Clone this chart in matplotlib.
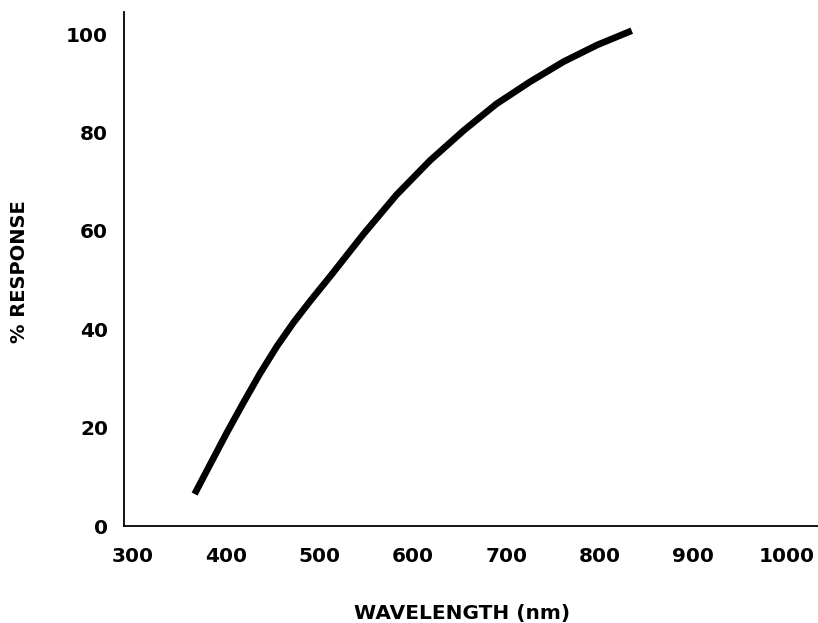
import matplotlib
matplotlib.use("Agg")
import matplotlib.pyplot as plt

wavelength_nm = [366, 382, 400, 418, 436, 454, 472, 490, 513, 547, 582, 618, 654, 689, 725, 761, 797, 834]
response_pct = [6.5, 12.3, 18.8, 25.0, 31.0, 36.5, 41.4, 45.8, 51.2, 59.4, 67.3, 74.3, 80.4, 85.8, 90.3, 94.4, 97.8, 100.7]
x_ticks = [300, 400, 500, 600, 700, 800, 900, 1000]
y_ticks = [0, 20, 40, 60, 80, 100]

plt.rcParams['font.family'] = ['DejaVu Sans']
fig = plt.figure(figsize=(8.18, 6.23), dpi=100)
W, H = 818, 623
ax = fig.add_axes([124 / W, (H - 526) / H, (W - 124) / W, (526 - 12) / H])

ax.plot(wavelength_nm, response_pct, color='black', lw=4.8,
        solid_capstyle='butt', solid_joinstyle='round')

ax.set_xlim(290.4, 1033.4)
ax.set_ylim(0, 104.5)
ax.set_xticks(x_ticks)
ax.set_yticks(y_ticks)
ax.set_xticklabels([str(t) for t in x_ticks], fontsize=14.5, fontweight='bold')
ax.set_yticklabels([str(t) for t in y_ticks], fontsize=14.5, fontweight='bold')
ax.tick_params(axis='both', length=0)
ax.tick_params(axis='y', pad=11.5)
ax.tick_params(axis='x', pad=15)

for s in ['top', 'right']:
    ax.spines[s].set_visible(False)
for s in ['left', 'bottom']:
    ax.spines[s].set_linewidth(1.3)

ax.set_xlabel('WAVELENGTH (nm)', fontsize=14.5, fontweight='bold')
ax.xaxis.set_label_coords((462 - 124) / 694, (526 - 613) / 514)
ax.set_ylabel('% RESPONSE', fontsize=14, fontweight='bold')
ax.yaxis.set_label_coords((20 - 124) / 694, (526 - 272) / 514)
ax.xaxis.label.set_va('center')
ax.yaxis.label.set_va('center')

fig.savefig('out.png', dpi=100)
